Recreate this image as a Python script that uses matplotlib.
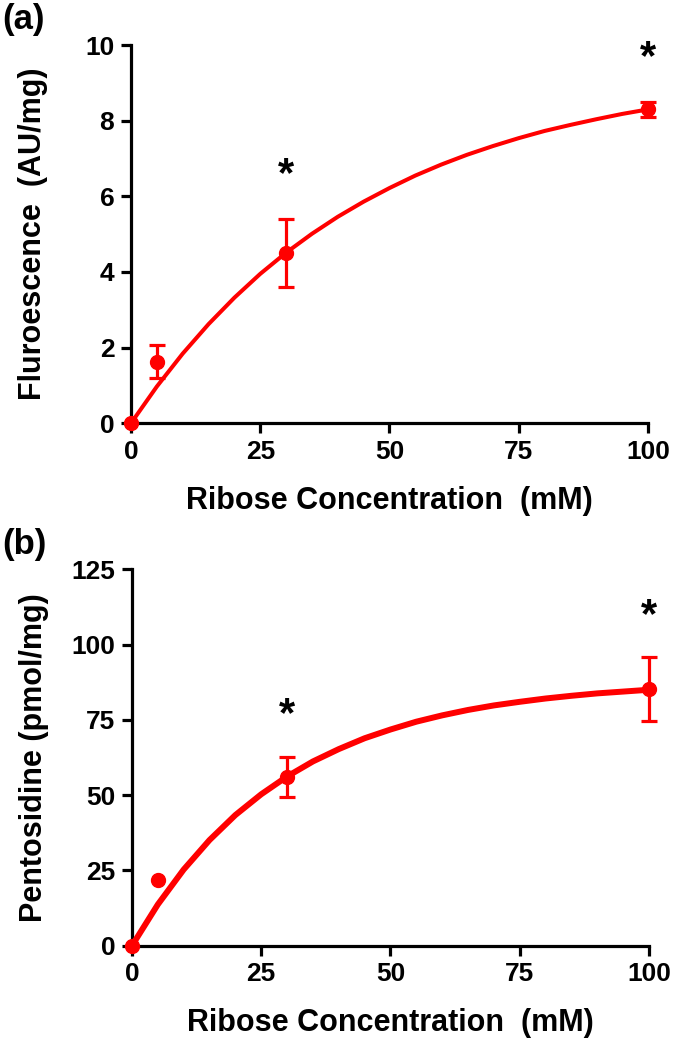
import matplotlib
matplotlib.use("Agg")
import matplotlib.pyplot as plt
import numpy as np

plt.rcParams['font.family'] = ['Liberation Sans', 'DejaVu Sans']
plt.rcParams['font.weight'] = 'bold'

RED = '#ff0000'

# measured points (ribose mM)
ribose = [0, 5, 30, 100]

# panel (a) fluorescence
fluor_mean = [0.0, 1.63, 4.5, 8.3]
fluor_err = [np.nan, 0.43, 0.91, 0.2]
fluor_star_x = [30, 100]
fluor_star_y = [6.55, 9.65]

# panel (b) pentosidine
pento_mean = [0.0, 21.8, 56.0, 85.3]
pento_err = [np.nan, np.nan, 6.6, 10.7]
pento_star_x = [30, 100]
pento_star_y = [76.5, 109.5]

# fitted curves
curve_x = [0, 5, 10, 15, 20, 25, 30, 35, 40, 45, 50,
           55, 60, 65, 70, 75, 80, 85, 90, 95, 100]
fluor_curve = [0.0, 0.97, 1.84, 2.62, 3.32, 3.95, 4.51, 5.01, 5.46, 5.86, 6.22,
               6.55, 6.84, 7.10, 7.33, 7.54, 7.73, 7.89, 8.04, 8.18, 8.30]
pento_curve = [0.0, 13.7, 25.3, 35.1, 43.4, 50.3, 56.2, 61.2, 65.3, 68.9, 71.8,
               74.4, 76.5, 78.3, 79.8, 81.0, 82.1, 83.0, 83.8, 84.4, 85.0]

x_ticks = [0, 25, 50, 75, 100]


def style_axes(ax, yticks):
    for s in ['top', 'right']:
        ax.spines[s].set_visible(False)
    for s in ['left', 'bottom']:
        ax.spines[s].set_linewidth(2.3)
    ax.tick_params(direction='out', length=7, width=2.3, labelsize=19, pad=5)
    ax.set_xticks(x_ticks)
    ax.set_yticks(yticks)
    ax.set_xlim(0, 100)
    ax.set_ylim(yticks[0], yticks[-1])
    for lab in ax.get_xticklabels() + ax.get_yticklabels():
        lab.set_fontweight('bold')


fig = plt.figure(figsize=(6.81, 10.5), dpi=100)

# panel (a)
ax1 = fig.add_axes([0.1924, 0.597, 0.7591, 0.360])
ax1.plot(curve_x, fluor_curve, color=RED, lw=2.9, clip_on=False, zorder=3)
ax1.errorbar(ribose, fluor_mean, yerr=fluor_err, fmt='o', color=RED, ms=10,
             elinewidth=2.3, capsize=5.8, capthick=2.3, clip_on=False, zorder=4)
for x, y in zip(fluor_star_x, fluor_star_y):
    ax1.text(x, y, '*', fontsize=30, fontweight='bold', ha='center', va='center')
style_axes(ax1, [0, 2, 4, 6, 8, 10])
ax1.set_xlabel('Ribose Concentration  (mM)', fontsize=22, fontweight='bold')
ax1.set_ylabel('Fluroescence  (AU/mg)', fontsize=22, fontweight='bold')
ax1.xaxis.set_label_coords(0.5, -0.165)
ax1.yaxis.set_label_coords(-0.16, 0.5)

# panel (b)
ax2 = fig.add_axes([0.1938, 0.0993, 0.7592, 0.3585])
ax2.plot(curve_x, pento_curve, color=RED, lw=4.3, clip_on=False, zorder=3)
ax2.errorbar(ribose, pento_mean, yerr=pento_err, fmt='o', color=RED, ms=10,
             elinewidth=2.3, capsize=5.8, capthick=2.3, clip_on=False, zorder=4)
for x, y in zip(pento_star_x, pento_star_y):
    ax2.text(x, y, '*', fontsize=30, fontweight='bold', ha='center', va='center')
style_axes(ax2, [0, 25, 50, 75, 100, 125])
ax2.set_xlabel('Ribose Concentration  (mM)', fontsize=22, fontweight='bold')
ax2.set_ylabel('Pentosidine (pmol/mg)', fontsize=22, fontweight='bold')
ax2.xaxis.set_label_coords(0.5, -0.165)
ax2.yaxis.set_label_coords(-0.16, 0.5)

fig.text(0.003, 0.997, '(a)', fontsize=25, fontweight='bold', ha='left', va='top')
fig.text(0.003, 0.497, '(b)', fontsize=25, fontweight='bold', ha='left', va='top')

fig.savefig('out.png', dpi=100)
